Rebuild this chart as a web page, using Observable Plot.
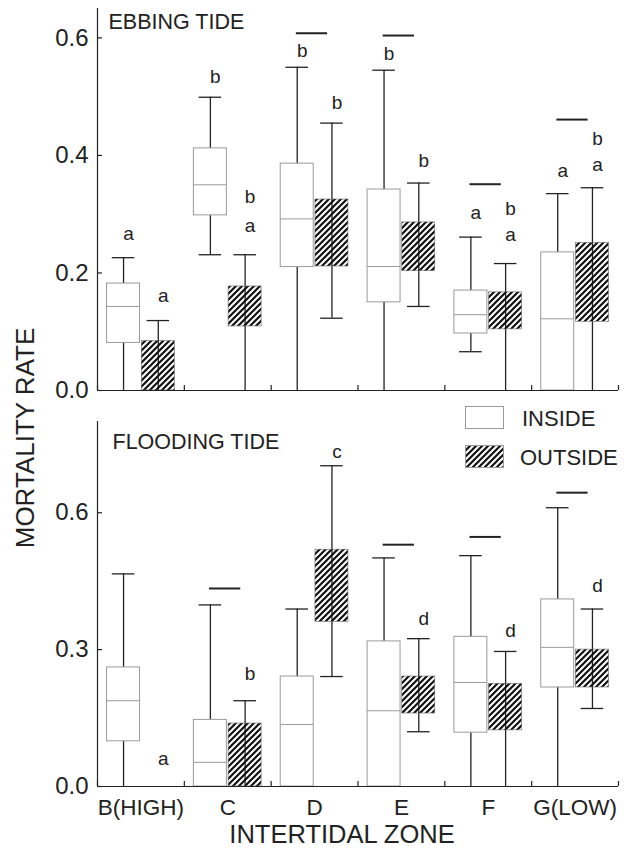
<!DOCTYPE html>
<html><head><meta charset="utf-8">
<script src="https://cdn.jsdelivr.net/npm/d3@7"></script>
<script src="https://cdn.jsdelivr.net/npm/@observablehq/plot@0.6"></script>
<style>
body{margin:0;background:#fff;font-family:"Liberation Sans",Arial,sans-serif;color:#222}
#wrap{position:relative;width:633px;height:854px;overflow:hidden;background:#fff}
#top,#bottom{position:absolute;left:0}
#top{top:0}
#bottom{top:395px}
#ylab{position:absolute;left:25px;top:438px;transform:translate(-50%,-50%) rotate(-90deg);font-size:26px;white-space:nowrap;color:#222}
.leg{position:absolute;font-size:22px;color:#222;line-height:1}
.sw{position:absolute;left:465px;width:39px;height:23px}
</style></head>
<body>
<svg width="0" height="0" style="position:absolute">
<defs><pattern id="hatch" patternUnits="userSpaceOnUse" width="6" height="6">
<path d="M-1.5,1.5 l3,-3 M0,6 l6,-6 M4.5,7.5 l3,-3" stroke="#111" stroke-width="2.2"/>
</pattern></defs></svg>
<div id="wrap">
  <div id="top"></div>
  <div id="bottom"></div>
  <div id="ylab">MORTALITY RATE</div>
  <svg class="sw" style="top:406px" viewBox="0 0 39 23"><rect x="0.5" y="0.5" width="38" height="22" fill="white" stroke="#999"/></svg>
  <div class="leg" style="left:522px;top:408px">INSIDE</div>
  <svg class="sw" style="top:445px" viewBox="0 0 39 23"><rect x="0.5" y="0.5" width="38" height="22" fill="url(#hatch)" stroke="#999"/></svg>
  <div class="leg" style="left:520px;top:447px">OUTSIDE</div>
</div>
<script>
const zones = ["B(HIGH)", "C", "D", "E", "F", "G(LOW)"];

// EBBING TIDE — inside
const ebbInLo  = [0, 0.231, 0, 0, 0.066, 0];
const ebbInQ1  = [0.081, 0.298, 0.210, 0.150, 0.097, 0];
const ebbInMed = [0.143, 0.350, 0.292, 0.211, 0.129, 0.122];
const ebbInQ3  = [0.182, 0.412, 0.386, 0.342, 0.170, 0.235];
const ebbInHi  = [0.226, 0.499, 0.550, 0.545, 0.261, 0.335];
// EBBING TIDE — outside
const ebbOutLo = [0, 0, 0.123, 0.143, 0, 0];
const ebbOutQ1 = [0, 0.109, 0.211, 0.203, 0.104, 0.117];
const ebbOutQ3 = [0.084, 0.177, 0.325, 0.286, 0.167, 0.251];
const ebbOutHi = [0.119, 0.231, 0.455, 0.353, 0.216, 0.345];
// EBBING letters
const ebbLetZone  = [0, 0, 1, 1, 1, 2, 2, 3, 3, 4, 4, 4, 5, 5, 5];
const ebbLetGroup = ["in","out","in","out","out","in","out","in","out","in","out","out","in","out","out"];
const ebbLetText  = ["a","a","b","b","a","b","b","b","b","a","b","a","a","b","a"];
const ebbLetY     = [0.256, 0.151, 0.523, 0.319, 0.270, 0.568, 0.479, 0.563, 0.380, 0.292, 0.299, 0.254, 0.363, 0.418, 0.374];
// EBBING significance bars
const ebbBarZone = [2, 3, 4, 5];
const ebbBarY    = [0.608, 0.604, 0.351, 0.461];

// FLOODING TIDE — inside
const fldInLo  = [0, 0, 0, 0, 0, 0];
const fldInQ1  = [0.099, 0, 0, 0, 0.118, 0.217];
const fldInMed = [0.188, 0.053, 0.136, 0.166, 0.228, 0.305];
const fldInQ3  = [0.261, 0.146, 0.241, 0.318, 0.328, 0.410];
const fldInHi  = [0.466, 0.398, 0.389, 0.501, 0.506, 0.611];
// FLOODING TIDE — outside
const fldOutLo = [0, 0, 0.241, 0.120, 0, 0.171];
const fldOutQ1 = [0, 0, 0.361, 0.160, 0.123, 0.217];
const fldOutQ3 = [0, 0.138, 0.519, 0.241, 0.225, 0.300];
const fldOutHi = [0, 0.188, 0.703, 0.324, 0.296, 0.389];
// FLOODING letters
const fldLetZone  = [0, 1, 2, 3, 4, 5];
const fldLetGroup = ["out","out","out","out","out","out"];
const fldLetText  = ["a","b","c","d","d","d"];
const fldLetY     = [0.047, 0.233, 0.719, 0.354, 0.327, 0.426];
// FLOODING significance bars
const fldBarZone = [1, 3, 4, 5];
const fldBarY    = [0.434, 0.530, 0.547, 0.644];

const ebbTicks = [0, 0.2, 0.4, 0.6];
const fldTicks = [0, 0.3, 0.6];

const OFF = 0.2, HW = 0.19, CAP = 0.13;
const bounds = d3.range(7).map(k => k - 0.5);
const INK = "#222";
const W = 633, ML = 97, MR = 15, TICK = 5;

function panel(c) {
  const rows = [];
  zones.forEach((z, i) => {
    rows.push({group: "in", pos: i - OFF, lo: c.inLo[i], q1: c.inQ1[i], med: c.inMed[i], q3: c.inQ3[i], hi: c.inHi[i]});
    rows.push({group: "out", pos: i + OFF, lo: c.outLo[i], q1: c.outQ1[i], med: null, q3: c.outQ3[i], hi: c.outHi[i]});
  });
  const inside = rows.filter(d => d.group === "in");
  const outside = rows.filter(d => d.group === "out" && d.q3 > d.q1);
  const letters = c.letZone.map((z, k) => ({pos: z + (c.letGroup[k] === "in" ? -OFF : OFF), t: c.letText[k], y: c.letY[k]}));
  const bars = c.barZone.map((z, k) => ({z, y: c.barY[k]}));
  const innerH = c.height - c.marginTop - c.marginBottom;
  const innerW = W - ML - MR;
  const marks = [
    Plot.ruleX(rows.filter(d => d.hi > d.lo), {x: "pos", y1: "lo", y2: "hi", stroke: INK, strokeWidth: 1.3}),
    Plot.ruleY(rows.filter(d => d.hi > 0), {y: "hi", x1: d => d.pos - CAP, x2: d => d.pos + CAP, stroke: INK, strokeWidth: 1.3}),
    Plot.ruleY(rows.filter(d => d.lo > 0), {y: "lo", x1: d => d.pos - CAP, x2: d => d.pos + CAP, stroke: INK, strokeWidth: 1.3}),
    Plot.rect(inside, {x1: d => d.pos - HW, x2: d => d.pos + HW, y1: "q1", y2: "q3", fill: "white", stroke: "#9a9a9a", strokeWidth: 1}),
    Plot.ruleY(inside, {y: "med", x1: d => d.pos - HW, x2: d => d.pos + HW, stroke: "#9a9a9a", strokeWidth: 1}),
    Plot.rect(outside, {x1: d => d.pos - HW, x2: d => d.pos + HW, y1: "q1", y2: "q3", fill: "url(#hatch)", stroke: "#666", strokeWidth: 0.6}),
    Plot.ruleX([-0.5], {stroke: INK, strokeWidth: 1.2}),
    Plot.ruleY([0], {stroke: INK, strokeWidth: 1.2}),
    // inward tick marks
    Plot.tickY(c.yTicks, {y: d => d, insetRight: innerW - TICK, stroke: INK, strokeWidth: 1.2}),
    Plot.tickX(bounds, {x: d => d, insetTop: innerH - TICK, stroke: INK, strokeWidth: 1.2}),
    Plot.axisY({ticks: c.yTicks, tickSize: 0, tickPadding: 9, tickFormat: d3.format(".1f"), fontSize: 24, label: null, fill: INK}),
    Plot.text(letters, {x: "pos", y: "y", text: "t", dx: 5, lineAnchor: "bottom", fontSize: 19, fill: INK}),
    Plot.ruleY(bars, {y: "y", x1: d => d.z - 0.21, x2: d => d.z + 0.15, stroke: INK, strokeWidth: 2}),
    Plot.text([c.title], {frameAnchor: "top-left", dx: c.titleDx, dy: c.titleDy, lineAnchor: "bottom", textAnchor: "start", fontSize: 21.5, fill: INK})
  ];
  if (c.xLabels) {
    marks.push(Plot.axisX({ticks: d3.range(6), tickSize: 0, tickPadding: 13, tickFormat: i => zones[i], fontSize: 22.5, label: null, fill: INK}));
    marks.push(Plot.text(["INTERTIDAL ZONE"], {frameAnchor: "bottom", dx: -16, dy: 56, lineAnchor: "bottom", fontSize: 25.5, fill: INK}));
  }
  return Plot.plot({
    width: W, height: c.height,
    marginLeft: ML, marginRight: MR, marginTop: c.marginTop, marginBottom: c.marginBottom,
    style: {fontFamily: '"Liberation Sans", Arial, sans-serif', fontSize: "24px", background: "transparent", overflow: "visible"},
    x: {type: "linear", domain: [-0.5, 5.5], axis: null},
    y: {type: "linear", domain: [0, c.yMax], axis: null},
    marks
  });
}

document.getElementById("top").append(panel({
  inLo: ebbInLo, inQ1: ebbInQ1, inMed: ebbInMed, inQ3: ebbInQ3, inHi: ebbInHi,
  outLo: ebbOutLo, outQ1: ebbOutQ1, outQ3: ebbOutQ3, outHi: ebbOutHi,
  letZone: ebbLetZone, letGroup: ebbLetGroup, letText: ebbLetText, letY: ebbLetY,
  barZone: ebbBarZone, barY: ebbBarY,
  yTicks: ebbTicks, yMax: 0.65, height: 395, marginTop: 8, marginBottom: 5,
  title: "EBBING TIDE", titleDx: 11, titleDy: 20, xLabels: false
}));
document.getElementById("bottom").append(panel({
  inLo: fldInLo, inQ1: fldInQ1, inMed: fldInMed, inQ3: fldInQ3, inHi: fldInHi,
  outLo: fldOutLo, outQ1: fldOutQ1, outQ3: fldOutQ3, outHi: fldOutHi,
  letZone: fldLetZone, letGroup: fldLetGroup, letText: fldLetText, letY: fldLetY,
  barZone: fldBarZone, barY: fldBarY,
  yTicks: fldTicks, yMax: 0.8, height: 459, marginTop: 26, marginBottom: 68,
  title: "FLOODING TIDE", titleDx: 15, titleDy: 27, xLabels: true
}));
</script>
</body></html>
